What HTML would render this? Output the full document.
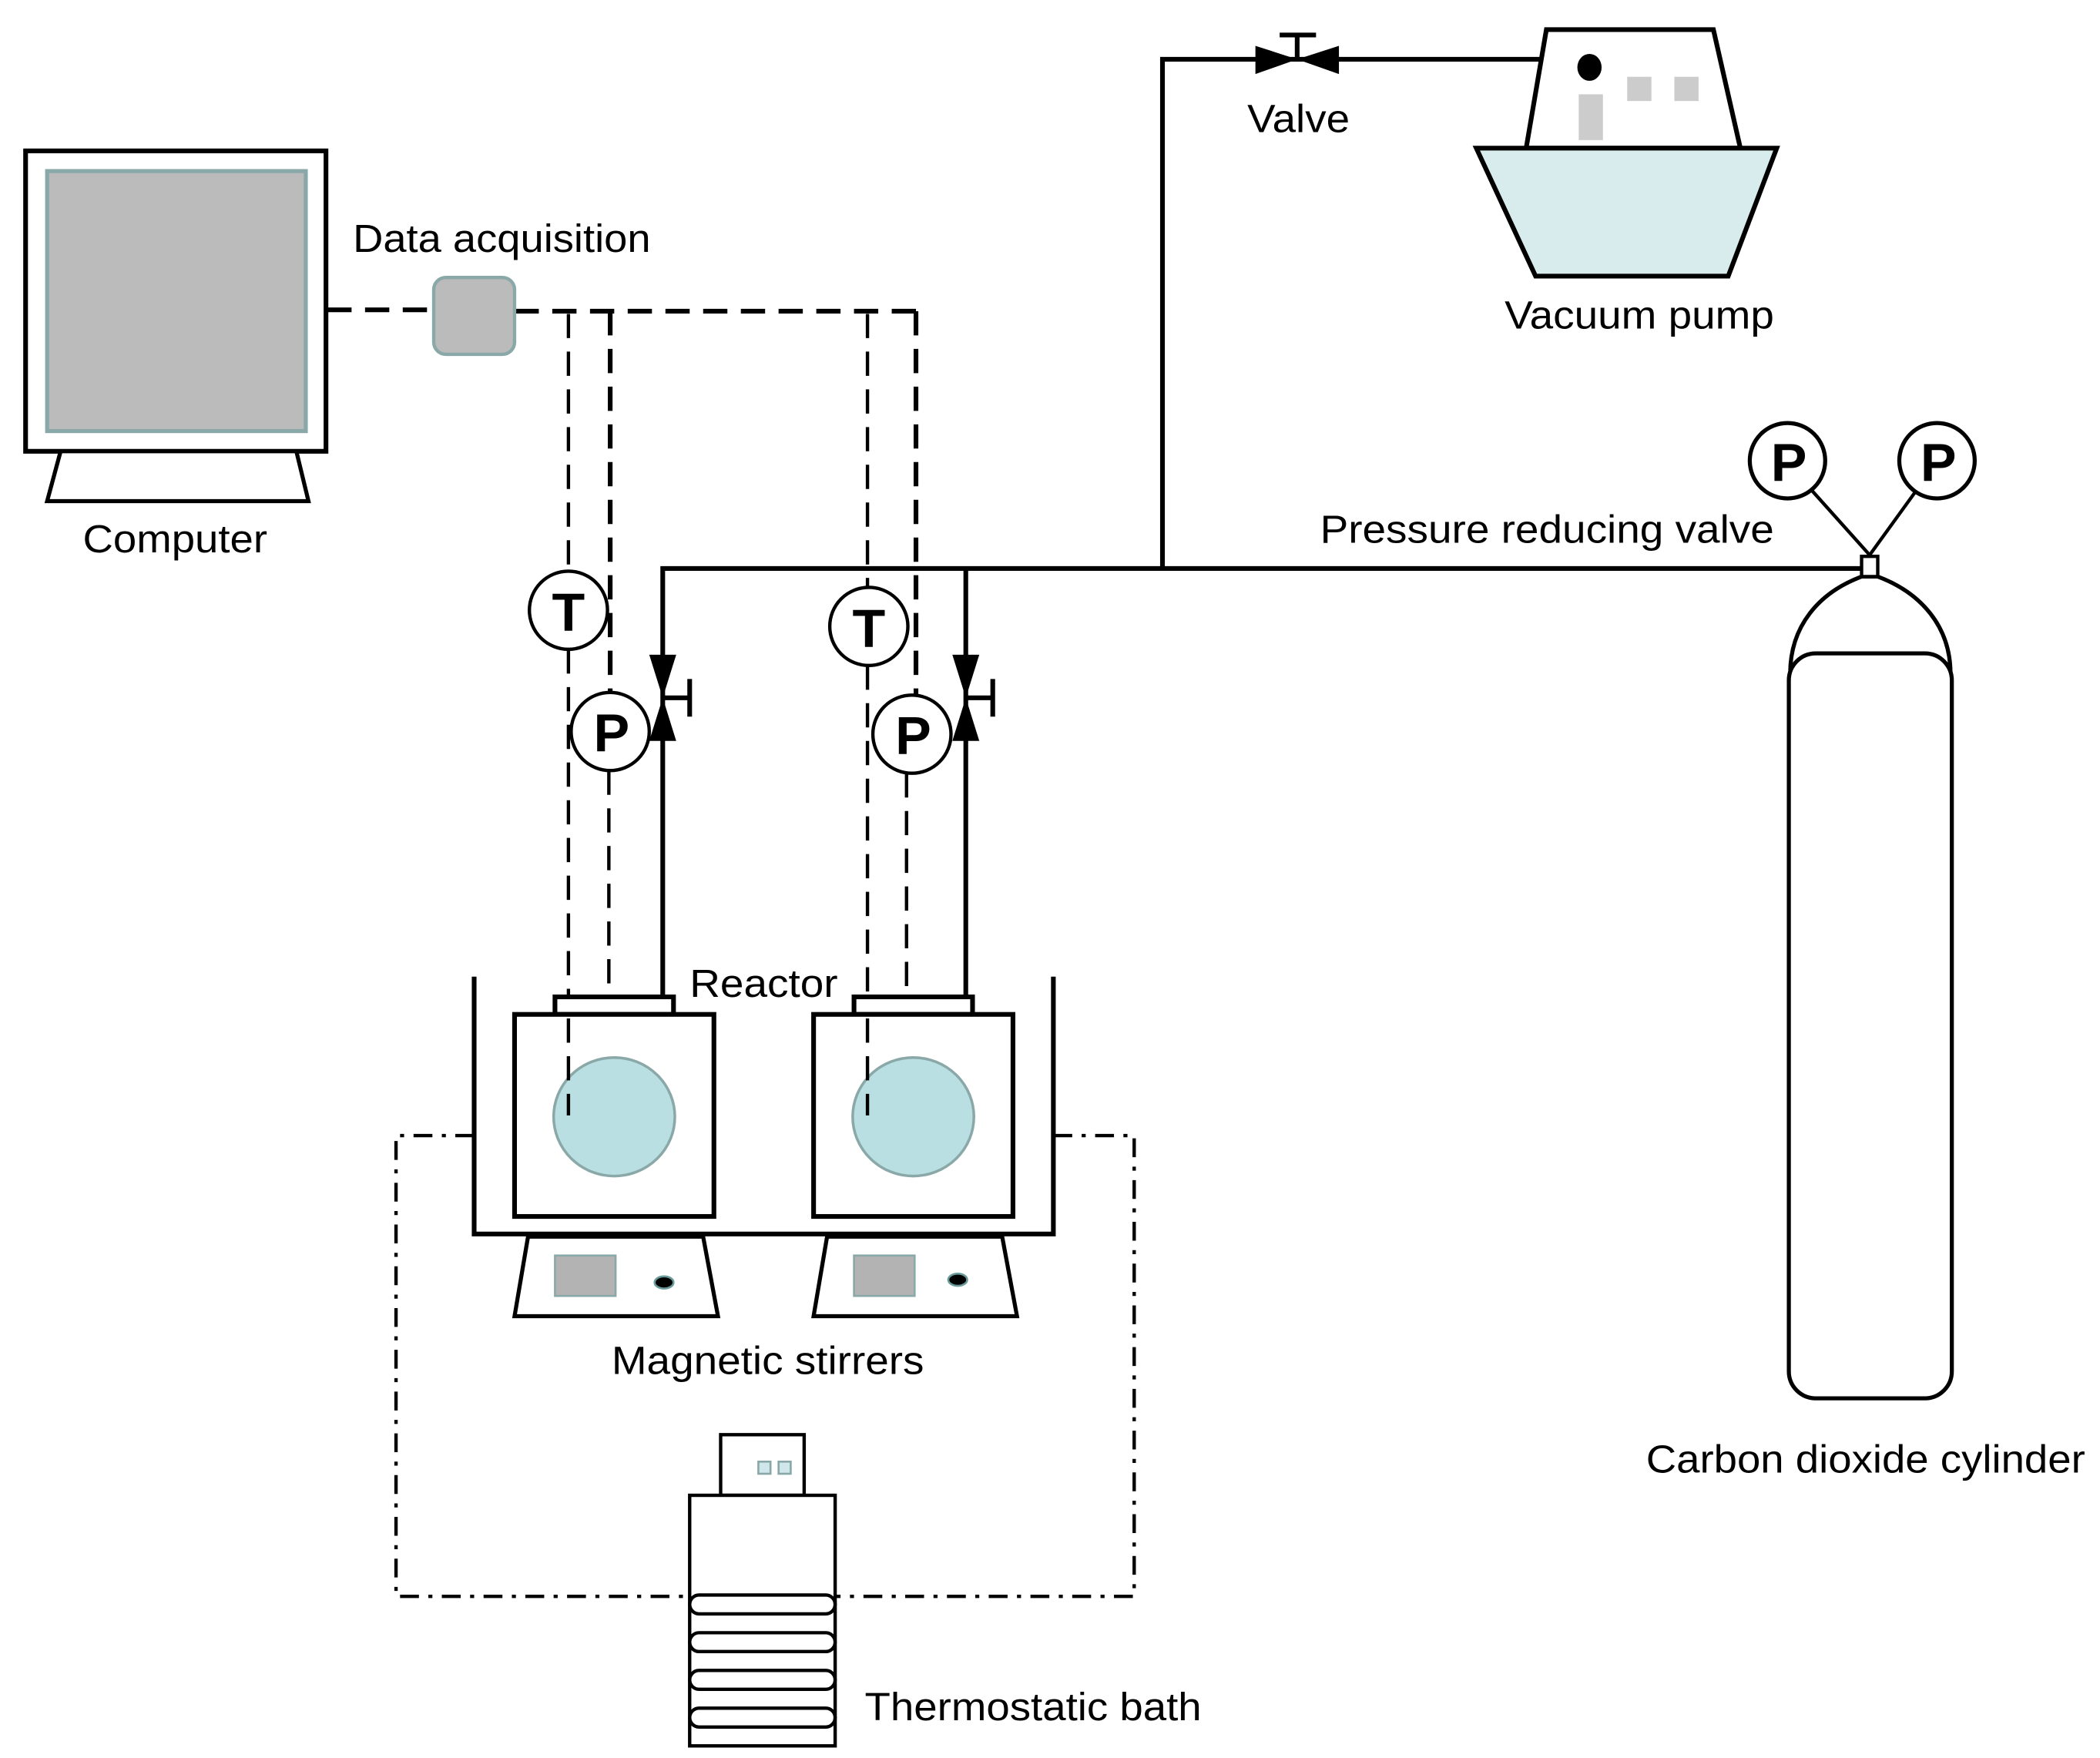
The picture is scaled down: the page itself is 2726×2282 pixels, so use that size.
<!DOCTYPE html>
<html><head><meta charset="utf-8"><style>html,body{margin:0;padding:0;background:#fff}svg{display:block}text{font-family:"Liberation Sans",Arial,sans-serif;fill:#000}</style></head><body>
<svg width="2726" height="2282" viewBox="0 0 1559 1305" preserveAspectRatio="none" xmlns="http://www.w3.org/2000/svg">
<rect x="0" y="0" width="1559" height="1305" fill="#fff"/>
<!-- Computer -->
<rect x="19" y="112" width="223" height="223" fill="#fff" stroke="#000" stroke-width="3.5"/>
<rect x="35" y="127" width="192" height="193" fill="#bbb" stroke="#8aa8a8" stroke-width="3"/>
<polygon points="45,335 220,335 229,372 35,372" fill="#fff" stroke="#000" stroke-width="3"/>
<text x="130" y="410" font-size="29" text-anchor="middle" textLength="137" lengthAdjust="spacingAndGlyphs">Computer</text>
<!-- Data acquisition -->
<text x="262" y="187" font-size="29" textLength="221" lengthAdjust="spacingAndGlyphs">Data acquisition</text>
<g stroke="#000" stroke-width="3.5" fill="none" stroke-dasharray="18,10">
<line x1="243" y1="230" x2="322" y2="230"/>
<line x1="382" y1="231" x2="680" y2="231"/>
<line x1="680" y1="231" x2="680" y2="520"/>
<line x1="453" y1="231" x2="453" y2="515"/>
</g>
<rect x="322" y="206" width="60" height="57" rx="9" fill="#bbb" stroke="#8aa8a8" stroke-width="2.5"/>
<g stroke="#000" stroke-width="2.5" fill="none" stroke-dasharray="18,10">
<line x1="422" y1="233" x2="422" y2="425"/>
<line x1="422" y1="482" x2="422" y2="828"/>
<line x1="452" y1="572" x2="452" y2="740"/>
<line x1="644" y1="233" x2="644" y2="437"/>
<line x1="644" y1="494" x2="644" y2="828"/>
<line x1="673" y1="574" x2="673" y2="740"/>
</g>
<!-- solid pipes -->
<g stroke="#000" stroke-width="3.5" fill="none">
<polyline points="492,740 492,422 1385,422"/>
<line x1="717" y1="422" x2="717" y2="740"/>
<polyline points="863,422 863,44 1148,44"/>
<line x1="963" y1="26" x2="963" y2="44"/>
<line x1="950" y1="26" x2="977" y2="26"/>
<line x1="492" y1="518" x2="512" y2="518"/>
<line x1="512" y1="504" x2="512" y2="532"/>
<line x1="717" y1="518" x2="737" y2="518"/>
<line x1="737" y1="504" x2="737" y2="532"/>
</g>
<!-- valves -->
<g fill="#000">
<polygon points="932,34 932,55 963,44"/>
<polygon points="994,34 994,55 963,44"/>
<polygon points="482,486 502,486 492,518"/>
<polygon points="482,550 502,550 492,518"/>
<polygon points="707,486 727,486 717,518"/>
<polygon points="707,550 727,550 717,518"/>
</g>
<text x="926" y="98" font-size="29" textLength="76" lengthAdjust="spacingAndGlyphs">Valve</text>
<!-- gauges -->
<g fill="#fff" stroke="#000" stroke-width="2.5">
<circle cx="422" cy="453" r="29"/>
<circle cx="453" cy="543" r="29"/>
<circle cx="645" cy="465" r="29"/>
<circle cx="677" cy="545" r="29"/>
</g>
<g font-size="40" font-weight="bold" text-anchor="middle">
<text x="422" y="468">T</text>
<text x="454" y="558">P</text>
<text x="645" y="480">T</text>
<text x="678" y="560">P</text>
</g>
<!-- bath walls -->
<polyline points="352,725 352,916 782,916 782,725" fill="none" stroke="#000" stroke-width="3.5"/>
<!-- reactors -->
<g stroke="#000" stroke-width="3.5" fill="#fff">
<rect x="412" y="740" width="88" height="13"/>
<rect x="382" y="753" width="148" height="150"/>
<rect x="634" y="740" width="88" height="13"/>
<rect x="604" y="753" width="148" height="150"/>
</g>
<ellipse cx="456" cy="829" rx="45" ry="44" fill="#b9dfe2" stroke="#8aa8a8" stroke-width="2"/>
<ellipse cx="678" cy="829" rx="45" ry="44" fill="#b9dfe2" stroke="#8aa8a8" stroke-width="2"/>
<g stroke="#000" stroke-width="2.5" stroke-dasharray="18,10">
<line x1="422" y1="756" x2="422" y2="828"/>
<line x1="644" y1="756" x2="644" y2="828"/>
</g>
<text x="512" y="740" font-size="29" textLength="110" lengthAdjust="spacingAndGlyphs">Reactor</text>
<!-- stirrers -->
<g stroke="#000" stroke-width="3" fill="#fff">
<polygon points="392,918 522,918 533,977 382,977"/>
<polygon points="614,918 744,918 755,977 604,977"/>
</g>
<rect x="412" y="932" width="45" height="30" fill="#b3b3b3" stroke="#8aa8a8" stroke-width="1.5"/>
<rect x="634" y="932" width="45" height="30" fill="#b3b3b3" stroke="#8aa8a8" stroke-width="1.5"/>
<ellipse cx="493" cy="952" rx="7" ry="4.5" fill="#000" stroke="#6a9a9a" stroke-width="1.5"/>
<ellipse cx="711" cy="950" rx="7" ry="4.5" fill="#000" stroke="#6a9a9a" stroke-width="1.5"/>
<text x="570" y="1020" font-size="29" text-anchor="middle" textLength="232" lengthAdjust="spacingAndGlyphs">Magnetic stirrers</text>
<!-- dash-dot loop -->
<g stroke="#000" stroke-width="2.5" fill="none" stroke-dasharray="14,7,3,7">
<polyline points="352,843 294,843 294,1185 512,1185"/>
<polyline points="782,843 842,843 842,1185 620,1185"/>
</g>
<!-- thermostatic bath -->
<rect x="535" y="1065" width="62" height="45" fill="#fff" stroke="#000" stroke-width="2.5"/>
<rect x="563" y="1085" width="9" height="9" fill="#cfe6ea" stroke="#8aa8a8" stroke-width="1.5"/>
<rect x="578" y="1085" width="9" height="9" fill="#cfe6ea" stroke="#8aa8a8" stroke-width="1.5"/>
<rect x="512" y="1110" width="108" height="186" fill="#fff" stroke="#000" stroke-width="2.5"/>
<g fill="none" stroke="#000" stroke-width="2.5">
<rect x="512" y="1184" width="108" height="14" rx="7"/>
<rect x="512" y="1212" width="108" height="14" rx="7"/>
<rect x="512" y="1240" width="108" height="14" rx="7"/>
<rect x="512" y="1268" width="108" height="14" rx="7"/>
</g>
<text x="642" y="1277" font-size="29" textLength="250" lengthAdjust="spacingAndGlyphs">Thermostatic bath</text>
<!-- vacuum pump -->
<polygon points="1148,22 1272,22 1292,110 1133,110" fill="#fff" stroke="#000" stroke-width="3.5"/>
<polygon points="1096,110 1319,110 1283,205 1140,205" fill="#d8ecee" stroke="#000" stroke-width="3.5"/>
<ellipse cx="1180" cy="50" rx="9" ry="10" fill="#000"/>
<rect x="1172" y="70" width="18" height="34" fill="#ccc"/>
<rect x="1208" y="57" width="18" height="18" fill="#ccc"/>
<rect x="1243" y="57" width="18" height="18" fill="#ccc"/>
<text x="1117" y="244" font-size="29" textLength="200" lengthAdjust="spacingAndGlyphs">Vacuum pump</text>
<!-- cylinder -->
<text x="980" y="403" font-size="29" textLength="337" lengthAdjust="spacingAndGlyphs">Pressure reducing valve</text>
<g stroke="#000" stroke-width="2.5" fill="none">
<line x1="1388" y1="412" x2="1345" y2="364"/>
<line x1="1388" y1="412" x2="1422" y2="365"/>
</g>
<circle cx="1327" cy="342" r="28" fill="#fff" stroke="#000" stroke-width="3"/>
<circle cx="1438" cy="342" r="28" fill="#fff" stroke="#000" stroke-width="3"/>
<text x="1328" y="357" font-size="40" font-weight="bold" text-anchor="middle">P</text>
<text x="1439" y="357" font-size="40" font-weight="bold" text-anchor="middle">P</text>
<path d="M1329,500 C1329,465 1350,440 1382,428 L1394,428 C1426,440 1448,465 1448,500" fill="#fff" stroke="#000" stroke-width="3"/>
<rect x="1328" y="485" width="121" height="553" rx="20" fill="#fff" stroke="#000" stroke-width="3"/>
<rect x="1382" y="413" width="12" height="15" fill="#fff" stroke="#000" stroke-width="2.5"/>
<text x="1222" y="1093" font-size="29" textLength="326" lengthAdjust="spacingAndGlyphs">Carbon dioxide cylinder</text>
</svg>
</body></html>
